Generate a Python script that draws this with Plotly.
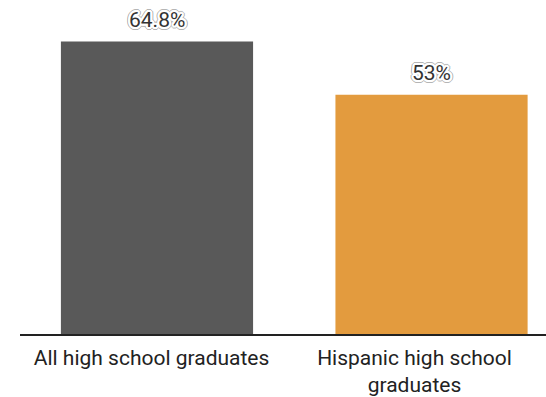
import plotly.graph_objects as go

categories = ["All high school graduates", "Hispanic high school<br>graduates"]
values = [64.8, 53.0]
labels = ["64.8%", "53%"]
colors = ["#595959", "#E39B3E"]

# halo: white ring with a thin light-grey outline
_white = ", ".join(f"{dx}px {dy}px 0px #ffffff" for dx, dy in
                   [(2, 0), (-2, 0), (0, 2), (0, -2), (1, 1), (-1, 1), (1, -1), (-1, -1),
                    (2, 1), (2, -1), (-2, 1), (-2, -1), (1, 2), (-1, 2), (1, -2), (-1, -2)])
_grey = ", ".join(f"{dx}px {dy}px 0px #b5b5b5" for dx, dy in
                  [(3, 0), (-3, 0), (0, 3), (0, -3), (2, 2), (-2, 2), (2, -2), (-2, -2),
                   (3, 1), (3, -1), (-3, 1), (-3, -1), (1, 3), (-1, 3), (1, -3), (-1, -3)])
HALO = _white + ", " + _grey

fig = go.Figure()
# bars on their own (hidden) category scale
fig.add_trace(go.Bar(
    x=categories, y=values, marker=dict(color=colors, line=dict(width=0)),
    width=0.7, hoverinfo="skip", xaxis="x2",
))
# invisible trace carrying the visible category axis labels
fig.add_trace(go.Scatter(
    x=categories, y=[0, 0], mode="markers", marker=dict(opacity=0),
    hoverinfo="skip", xaxis="x",
))
for c, v, t in zip(categories, values, labels):
    fig.add_annotation(
        x=c, y=v, xref="x2", yref="y", text=t, showarrow=False,
        yanchor="bottom", yshift=8,
        font=dict(family="Roboto", size=21, color="#333333", shadow=HALO),
    )

fig.update_layout(
    width=546, height=397,
    margin=dict(l=20, r=0, t=10, b=60),
    paper_bgcolor="white", plot_bgcolor="white",
    showlegend=False,
    font=dict(family="Roboto", color="#222222"),
    xaxis=dict(
        range=[-0.5, 1.5],
        showline=True, linecolor="#222222", linewidth=1.5,
        ticks="", tickfont=dict(size=21, color="#222222"),
        ticklabelstandoff=4,
        showgrid=False, zeroline=False,
    ),
    xaxis2=dict(
        overlaying="x", range=[-0.499, 1.417], visible=False,
        showgrid=False, zeroline=False,
    ),
    yaxis=dict(
        range=[0, 71.8], visible=False, showgrid=False, zeroline=False,
    ),
)
fig.write_html("out.html")
